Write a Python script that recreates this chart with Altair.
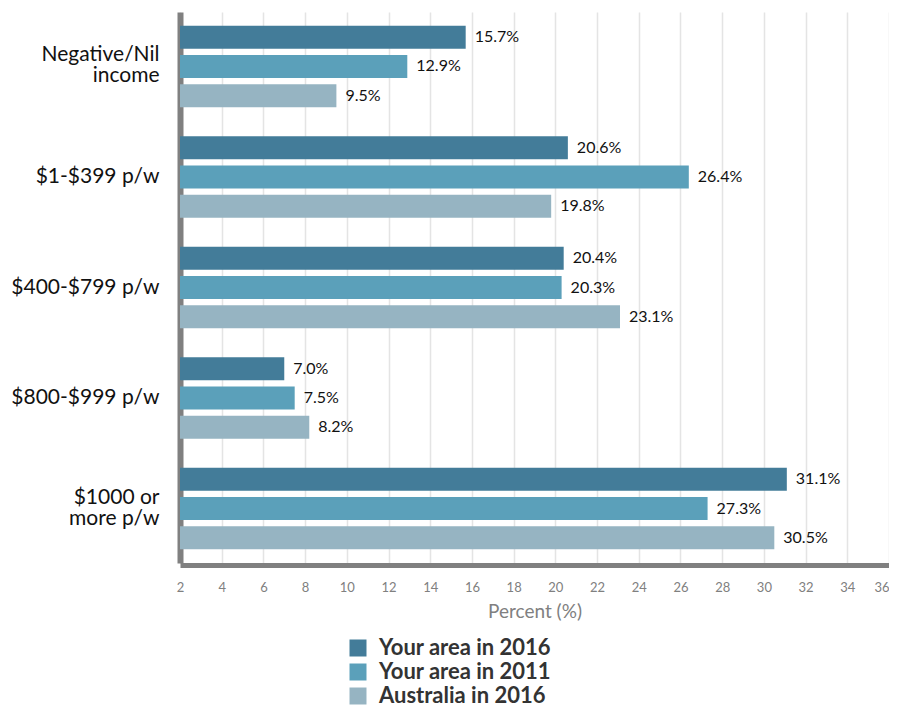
import altair as alt
import pandas as pd

categories = ["Negative/Nil income", "$1-$399 p/w", "$400-$799 p/w",
              "$800-$999 p/w", "$1000 or more p/w"]
series = ["Your area in 2016", "Your area in 2011", "Australia in 2016"]
area_2016 = [15.7, 20.6, 20.4, 7.0, 31.1]
area_2011 = [12.9, 26.4, 20.3, 7.5, 27.3]
australia_2016 = [9.5, 19.8, 23.1, 8.2, 30.5]
x_ticks = list(range(2, 37, 2))
colors = ["#437C99", "#5BA0BA", "#96B4C2"]
title_text = "Figure 9: Gross individual income per week in your area"

rows = []
for s, vals in zip(series, [area_2016, area_2011, australia_2016]):
    for c, v in zip(categories, vals):
        rows.append({"category": c, "series": s, "value": v, "label": f"{v:.1f}%"})
df = pd.DataFrame(rows)

y_label_expr = (
    "datum.value == 'Negative/Nil income' ? ['Negative/Nil', 'income'] : "
    "datum.value == '$1000 or more p/w' ? ['$1000 or', 'more p/w'] : datum.label"
)
multi_test = "datum.value == 'Negative/Nil income' || datum.value == '$1000 or more p/w'"

y_enc = alt.Y(
    "category:N", sort=categories,
    scale=alt.Scale(paddingInner=0.262, paddingOuter=0.124),
    axis=alt.Axis(title=None, labelExpr=y_label_expr, labelFontSize=21,
                  labelFont="Lato", labelColor="#111111", labelPadding=21,
                  labelLineHeight=21, ticks=False, domainColor="#808080",
                  domainWidth=6, grid=False,
                  labelOffset={"condition": {"test": multi_test, "value": -11},
                               "value": 0}),
)
yoff_enc = alt.YOffset("series:N", sort=series,
                       scale=alt.Scale(paddingInner=0.214, paddingOuter=0))
x_enc = alt.X(
    "value:Q",
    scale=alt.Scale(domain=[2, 36], nice=False, zero=False),
    axis=alt.Axis(values=x_ticks, title="Percent (%)", labelColor="#808080",
                  labelFont="Lato", labelFontSize=13, labelPadding=16,
                  labelOverlap=False,
                  labelAlign={"condition": {"test": "datum.value == 36", "value": "right"},
                              "value": "center"},
                  ticks=False, grid=True, gridColor="#e4e4e4", gridWidth=1.5,
                  domainColor="#808080", domainWidth=5, offset=2,
                  titleFont="Lato", titleFontSize=19, titleColor="#808080",
                  titleFontWeight="normal", titlePadding=8),
)
color_enc = alt.Color(
    "series:N", sort=series,
    scale=alt.Scale(domain=series, range=colors),
    legend=alt.Legend(title=None, orient="none", legendX=167, legendY=625,
                      direction="vertical", symbolType="square", symbolSize=289,
                      symbolStrokeWidth=0, symbolOpacity=1, labelFontSize=22,
                      labelFont="Lato", labelFontWeight="bold", labelLimit=0,
                      labelColor="#333333", labelOffset=10, rowPadding=2,
                      padding=0),
)

bars = alt.Chart(df).mark_bar(clip=True).encode(
    y=y_enc, yOffset=yoff_enc, x=x_enc, color=color_enc,
)
labels = alt.Chart(df).mark_text(align="left", baseline="middle", dx=9,
                                 fontSize=16, font="Lato",
                                 color="#111111").encode(
    y=alt.Y("category:N", sort=categories),
    yOffset=alt.YOffset("series:N", sort=series),
    x="value:Q", text="label:N",
)

chart = alt.layer(bars, labels).properties(
    width=709, height=551,
    title=alt.TitleParams(text=title_text, fontSize=20, font="Lato",
                          fontWeight="bold", color="#111111", frame="bounds",
                          anchor="middle", offset=0, baseline="bottom", dy=13),
    autosize=alt.AutoSizeParams(type="none"),
    padding={"left": 172, "top": 4, "right": 0, "bottom": 142},
).configure_view(stroke=None)

chart.save("out.html", embed_options={"renderer": "svg", "actions": False})
